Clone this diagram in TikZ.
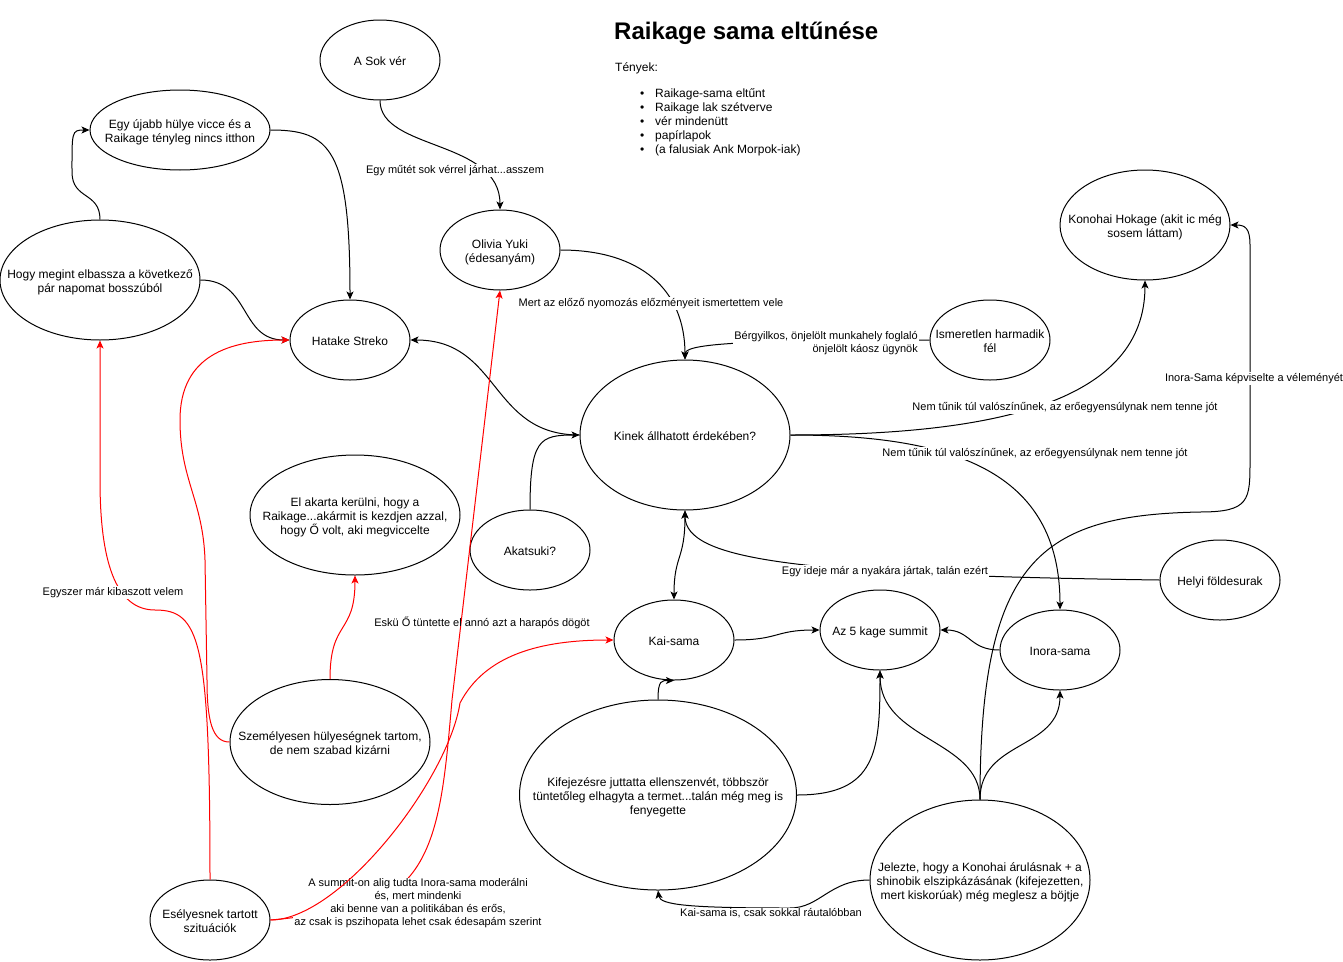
\documentclass[tikz,border=0pt]{standalone}
\usepackage{fontspec}
\setmainfont{Liberation Sans}
\usetikzlibrary{shapes.geometric,arrows.meta}
\newcommand\ctext[1]{\makebox[0pt]{\raisebox{-2.5pt}[\height][\depth]{\begin{tabular}{@{}c@{}}#1\end{tabular}}}}
\begin{document}
\begin{tikzpicture}[x=1pt,y=-1pt,font=\fontsize{12}{14}\selectfont,
  ell/.style 2 args={ellipse, draw, line width=1pt, minimum width=#1pt, minimum height=#2pt, inner sep=0pt},
  arr/.style={line width=1pt, -{Stealth[length=8pt,width=7pt,inset=2pt]}},
  arrboth/.style={line width=1pt, {Stealth[length=8pt,width=7pt,inset=2pt]}-{Stealth[length=8pt,width=7pt,inset=2pt]}},
  redarr/.style={arr, draw=red},
  lab/.style={font=\fontsize{11}{13}\selectfont, fill=white, inner sep=1pt, align=center, yshift=-2.5pt},
  labnf/.style={font=\fontsize{11}{13}\selectfont, inner sep=1pt, align=center, yshift=-2.5pt},
  fact/.style={anchor=base west, inner sep=0pt}]
\fill[white] (0,0) rectangle (1343,961);
\useasboundingbox (0,0) rectangle (1343,961);

% title and facts
\node[anchor=west, inner sep=0pt, font=\bfseries\fontsize{24}{28}\selectfont] (title) at (614,33) {Raikage sama eltűnése};
\node[fact] (tenyek) at (615,71) {Tények:};
\node[fact] (f1) at (640,97) {\makebox[15pt][l]{•}Raikage-sama eltűnt};
\node[fact] (f2) at (640,111) {\makebox[15pt][l]{•}Raikage lak szétverve};
\node[fact] (f3) at (640,125) {\makebox[15pt][l]{•}vér mindenütt};
\node[fact] (f4) at (640,139) {\makebox[15pt][l]{•}papírlapok};
\node[fact] (f5) at (640,153) {\makebox[15pt][l]{•}(a falusiak Ank Morpok-iak)};

% nodes
\node[ell={120}{80}] (sok) at (380,60) {\ctext{A Sok vér}};
\node[ell={180}{80}] (ujabb) at (180,130) {\ctext{Egy újabb hülye vicce és a\\Raikage tényleg nincs itthon}};
\node[ell={200}{120}] (hogy) at (100,280) {\ctext{Hogy megint elbassza a következő\\pár napomat bosszúból}};
\node[ell={120}{80}] (hatake) at (350,340) {\ctext{Hatake Streko}};
\node[ell={120}{80}] (olivia) at (500,250) {\ctext{Olivia Yuki\\(édesanyám)}};
\node[ell={210}{150}] (kinek) at (685,435) {\ctext{Kinek állhatott érdekében?}};
\node[ell={120}{80}] (ismeretlen) at (990,340) {\ctext{Ismeretlen harmadik\\fél}};
\node[ell={170}{110}] (konohai) at (1145,225) {\ctext{Konohai Hokage (akit ic még\\sosem láttam)}};
\node[ell={210}{120}] (elakarta) at (355,515) {\ctext{El akarta kerülni, hogy a\\Raikage...akármit is kezdjen azzal,\\hogy Ő volt, aki megviccelte}};
\node[ell={120}{80}] (akatsuki) at (530,550) {\ctext{Akatsuki?}};
\node[ell={120}{80}] (kai) at (674,640) {\ctext{Kai-sama}};
\node[ell={120}{80}] (summit) at (880,630) {\ctext{Az 5 kage summit}};
\node[ell={120}{80}] (inora) at (1060,650) {\ctext{Inora-sama}};
\node[ell={120}{80}] (helyi) at (1220,580) {\ctext{Helyi földesurak}};
\node[ell={200}{125}] (szemelyes) at (330,742) {\ctext{Személyesen hülyeségnek tartom,\\de nem szabad kizárni}};
\node[ell={277}{190}] (kifejez) at (658,795) {\ctext{Kifejezésre juttatta ellenszenvét, többször\\tüntetőleg elhagyta a termet...talán még meg is\\fenyegette}};
\node[ell={220}{160}] (jelezte) at (980,880) {\ctext{Jelezte, hogy a Konohai árulásnak + a\\shinobik elszipkázásának (kifejezetten,\\mert kiskorúak) még meglesz a böjtje}};
\node[ell={120}{80}] (eselyes) at (210,920) {\ctext{Esélyesnek tartott\\szituációk}};

% black connectors
\draw[arr] (sok.south) .. controls +(0,50) and +(0,-70) .. (olivia.north);
\draw[arr] (ujabb.east) .. controls +(60,0) and +(0,-150) .. (hatake.north);
\draw[arr] (hogy.north) .. controls +(0,-28) and +(0,28) .. (72,172) .. controls +(0,-40) and +(-18,0) .. (ujabb.west);
\draw[arr] (hogy.east) .. controls +(50,0) and +(-50,0) .. (hatake.west);
\draw[arr] (olivia.east) .. controls +(80,0) and +(0,-70) .. (kinek.north);
\draw[arr] (ismeretlen.west) .. controls +(-200,0) and +(0,-15) .. (kinek.north);
\draw[arr] (kinek.east) .. controls +(210,0) and +(0,120) .. (konohai.south);
\draw[arr] (kinek.east) .. controls +(160,0) and +(0,-140) .. (inora.north);
\draw[arr] (kinek.west) .. controls +(-90,0) and +(90,0) .. (hatake.east);
\draw[arr] (akatsuki.north) .. controls +(0,-70) and +(-40,0) .. (kinek.west);
\draw[arrboth] (kinek.south) .. controls +(0,50) and +(0,-45) .. (kai.north);
\draw[arr] (helyi.west) .. controls +(-360,-5) and +(0,50) .. (kinek.south);
\draw[arr] (kai.east) .. controls +(45,0) and +(-45,0) .. (summit.west);
\draw[arr] (inora.west) .. controls +(-30,0) and +(30,0) .. (summit.east);
\draw[arr] (kifejez.north) .. controls +(0,-20) and +(-12,0) .. (kai.south);
\draw[arr] (kifejez.east) .. controls +(80,0) and +(0,80) .. (summit.south);
\draw[arr] (jelezte.north) .. controls +(0,-60) and +(0,70) .. (summit.south);
\draw[arr] (jelezte.north) .. controls +(0,-60) and +(0,60) .. (inora.south);
\draw[arr] (jelezte.north) .. controls (980,560) and (1040,515) .. (1200,512) .. controls (1250,512) and (1250,500) .. (1250,460) -- (1250,245) .. controls (1250,228) and (1245,225) .. (konohai.east);
\draw[arr] (jelezte.west) .. controls +(-40,0) and +(30,0) .. (790,908) .. controls (690,908) and (660,905) .. (kifejez.south);

% red connectors
\draw[redarr] (eselyes.north) .. controls (210,640) and (200,610) .. (155,610) .. controls (115,610) and (100,560) .. (100,480) -- (hogy.south);
\draw[redarr] (szemelyes.west) .. controls (212,742) and (207,720) .. (207,680) -- (205,560) .. controls (203,500) and (180,480) .. (180,420) .. controls (180,355) and (230,340) .. (hatake.west);
\draw[redarr] (szemelyes.north) .. controls +(0,-60) and +(0,60) .. (elakarta.south);
\draw[redarr] (eselyes.east) .. controls (330,915) and (390,900) .. (410,876) .. controls (440,840) and (445,780) .. (452,700) -- (olivia.south);

% labels
\node[lab] (l1) at (455,168) {Egy műtét sok vérrel járhat...asszem};
\node[lab] (l2) at (651,301) {Mert az előző nyomozás előzményeit ismertettem vele};
\node[lab, anchor=east, align=right] (l3) at (919,341) {Bérgyilkos, önjelölt munkahely foglaló\\önjelölt káosz ügynök};
\node[lab] (l4) at (1065,405) {Nem tűnik túl valószínűnek, az erőegyensúlynak nem tenne jót};
\node[lab] (l5) at (1035,451) {Nem tűnik túl valószínűnek, az erőegyensúlynak nem tenne jót};
\node[lab] (l6) at (1254,376) {Inora-Sama képviselte a véleményét};
\node[lab] (l7) at (885,569) {Egy ideje már a nyakára jártak, talán ezért};
\node[lab] (l8) at (771,911) {Kai-sama is, csak sokkal ráutalóbban};
\node[lab] (l9) at (113,590) {Egyszer már kibaszott velem};
\node[labnf] (l10) at (482,620) {Eskü Ő tüntette el annó azt a harapós dögöt};
\node[lab] (l11) at (418,901) {A summit-on alig tudta Inora-sama moderálni\\és, mert mindenki\\aki benne van a politikában és erős,\\az csak is pszihopata lehet csak édesapám szerint};

% red connector drawn over the label
\draw[redarr] (eselyes.east) .. controls (340,920) and (448,780) .. (460,703) .. controls (485,655) and (540,640) .. (kai.west);
\end{tikzpicture}
\end{document}
